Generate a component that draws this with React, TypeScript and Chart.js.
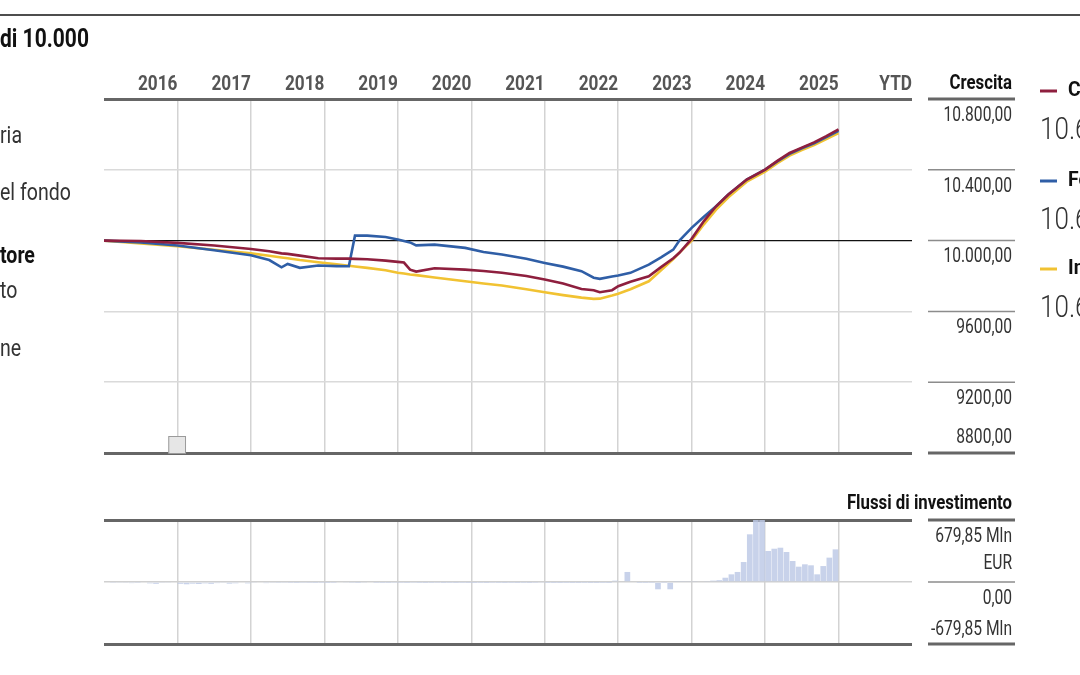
import React, { useEffect, useRef } from "react";
import { Chart, registerables } from "chart.js";

Chart.register(...registerables);

const W = 1080;
const H = 675;
const FONT = "Roboto";

// ---------- data ----------
const yearLabels = ["2016", "2017", "2018", "2019", "2020", "2021", "2022", "2023", "2024", "2025", "YTD"];

// months since Jan 2016
const months = [0, 6, 12, 18, 24, 27, 29, 30, 32, 35, 38, 40, 41, 43, 46, 48, 49, 50, 51, 54, 59, 62, 65, 69, 72, 75, 78, 80, 81, 83, 84, 86, 89, 91, 93, 94, 96, 98, 100, 102, 105, 108, 110, 112, 114, 116, 118, 120];

const categoryValues = [10000, 9998, 9987, 9972, 9953, 9940, 9928, 9925, 9915, 9900, 9898, 9898, 9897, 9895, 9887, 9880, 9876, 9836, 9825, 9844, 9836, 9828, 9818, 9800, 9780, 9758, 9727, 9720, 9708, 9720, 9742, 9768, 9798, 9850, 9900, 9931, 10010, 10110, 10194, 10260, 10345, 10401, 10450, 10495, 10525, 10555, 10590, 10628];

const fundValues = [10000, 9990, 9972, 9945, 9917, 9890, 9849, 9868, 9846, 9859, 9856, 9855, 10028, 10028, 10020, 10006, 9998, 9990, 9973, 9977, 9959, 9936, 9921, 9897, 9874, 9853, 9827, 9790, 9784, 9797, 9803, 9818, 9864, 9905, 9949, 10000, 10072, 10135, 10194, 10260, 10345, 10401, 10448, 10490, 10522, 10550, 10585, 10620];

const indexValues = [10000, 9984, 9968, 9948, 9928, 9914, 9905, 9900, 9890, 9878, 9866, 9858, 9854, 9846, 9832, 9818, 9814, 9808, 9805, 9792, 9770, 9758, 9746, 9725, 9708, 9692, 9678, 9671, 9672, 9690, 9700, 9725, 9770, 9832, 9895, 9932, 10000, 10092, 10175, 10245, 10333, 10390, 10438, 10480, 10512, 10540, 10574, 10608];

const seriesNames = ["Categoria", "Fondo", "Indice"];
const seriesColors = ["#8e1f3e", "#2f5ea6", "#f1c232"];

const growthTicks = [10800, 10400, 10000, 9600, 9200, 8800];
const growthTickLabels = ["10.800,00", "10.400,00", "10.000,00", "9600,00", "9200,00", "8800,00"];

// monthly investment flows (Mln EUR), Jan 2016 .. Dec 2025
const flowValues = [
  -8, -5, -10, -6, -12, -4, -8, -15, -20, -6, -10, -8,
  -20, -25, -18, -22, -15, -20, -12, -10, -18, -14, -8, -15,
  -10, -8, -12, -6, -4, -5, -3, -2, -4, -3, -2, -3,
  -2, -3, -8, -10, -4, -2, -6, -8, -3, -2, -2, -4,
  -3, -2, -4, -2, -1, -2, -3, -1, -2, -1, -2, -1,
  -1, -2, -1, -3, -2, -1, -2, -1, -2, -1, -3, -6,
  -2, -1, -1, -2, -1, -1, -2, -1, -1, -2, -1, 15,
  0, 110, 0, -2, -2, -3, -80, -3, -80, 5, 5, 6,
  6, 8, 10, 15, 20, 47, 84, 110, 219, 523, 690, 690,
  340, 365, 376, 329, 230, 168, 194, 183, 84, 175, 267, 358,
];
const flowMax = 679.85;
const flowTickLabels = ["679,85 Mln", "0,00", "-679,85 Mln"];

const leftFragments = ["ria", "el fondo", "tore", "to", "ne"];
const leftFragmentBold = [false, false, true, false, false];

const markerRange = [10.5, 13.4];

// ---------- helpers ----------
function txt(
  ctx: CanvasRenderingContext2D,
  s: string,
  x: number,
  y: number,
  size: number,
  weight: string,
  color: string,
  align: CanvasTextAlign,
  sx: number
) {
  ctx.save();
  ctx.font = `${weight} ${size}px ${FONT}`;
  ctx.fillStyle = color;
  ctx.textBaseline = "middle";
  ctx.textAlign = align;
  ctx.translate(x, y);
  ctx.scale(sx, 1);
  ctx.fillText(s, 0, 0);
  ctx.restore();
}

function hline(ctx: CanvasRenderingContext2D, x0: number, x1: number, y: number, w: number, color: string) {
  ctx.save();
  ctx.strokeStyle = color;
  ctx.lineWidth = w;
  ctx.beginPath();
  ctx.moveTo(x0, y);
  ctx.lineTo(x1, y);
  ctx.stroke();
  ctx.restore();
}

const COL_X0 = 928;
const COL_X1 = 1015;
const LABEL_R = 1012;

const growthDecor = {
  id: "growthDecor",
  afterDraw(chart: any) {
    const ctx = chart.ctx as CanvasRenderingContext2D;
    const xs = chart.scales.x;
    const ys = chart.scales.y;
    const area = chart.chartArea;

    // top rule & title
    hline(ctx, 0, W, 15, 2, "#4d4d4d");
    txt(ctx, "di 10.000", 0, 41, 25, "bold", "#111", "left", 0.84);

    // year labels
    yearLabels.forEach((lab, i) => {
      const x = xs.getPixelForValue(12 * (i + 1));
      txt(ctx, lab, x, area.top - 14, 20, "bold", "#555", "right", 0.86);
    });

    // right column
    txt(ctx, "Crescita", LABEL_R, area.top - 15, 20, "bold", "#111", "right", 0.84);
    growthTicks.forEach((v, i) => {
      const y = ys.getPixelForValue(v);
      const edge = i === 0 || i === growthTicks.length - 1;
      hline(ctx, COL_X0, COL_X1, y, edge ? 3 : 1.5, edge ? "#666" : "#8c8c8c");
      const ly = i === growthTicks.length - 1 ? y - 15 : y + 17;
      txt(ctx, growthTickLabels[i], LABEL_R, ly, 19.5, "normal", "#333", "right", 0.8);
    });

    // marker box
    const mx0 = xs.getPixelForValue(markerRange[0]);
    const mx1 = xs.getPixelForValue(markerRange[1]);
    ctx.save();
    ctx.fillStyle = "#e6e6e6";
    ctx.strokeStyle = "#9a9a9a";
    ctx.lineWidth = 1;
    ctx.fillRect(mx0, area.bottom - 17, mx1 - mx0, 17);
    ctx.strokeRect(mx0 + 0.5, area.bottom - 17 + 0.5, mx1 - mx0 - 1, 17);
    ctx.restore();

    // left fragments
    const ly = [137, 194, 257, 292, 350];
    leftFragments.forEach((s, i) => {
      txt(ctx, s, 0, ly[i], 23, leftFragmentBold[i] ? "bold" : "normal", leftFragmentBold[i] ? "#111" : "#333", "left", 0.85);
    });

    // right legend
    const lastVals = [categoryValues, fundValues, indexValues].map((a) => a[a.length - 1]);
    const legY = [91, 181, 269];
    seriesNames.forEach((n, i) => {
      hline(ctx, 1040, 1057, legY[i], 3, seriesColors[i]);
      txt(ctx, n, 1068, legY[i], 21, "bold", "#111", "left", 0.92);
      const v = lastVals[i].toFixed(2).replace(".", ",");
      const s = v.slice(0, 2) + "." + v.slice(2);
      txt(ctx, s, 1040, legY[i] + 40, 31, "300", "#333", "left", 0.84);
    });
  },
};

const flowDecor = {
  id: "flowDecor",
  afterDraw(chart: any) {
    const ctx = chart.ctx as CanvasRenderingContext2D;
    const ys = chart.scales.y;
    const area = chart.chartArea;
    txt(ctx, "Flussi di investimento", LABEL_R, area.top - 16, 20, "bold", "#111", "right", 0.84);
    const vals = [flowMax, 0, -flowMax];
    vals.forEach((v, i) => {
      const y = ys.getPixelForValue(v);
      const edge = i !== 1;
      hline(ctx, COL_X0, COL_X1, y, edge ? 3 : 1.5, edge ? "#666" : "#8c8c8c");
      const ly = i === 2 ? y - 14 : y + 17;
      txt(ctx, flowTickLabels[i], LABEL_R, ly, 19.5, "normal", "#333", "right", 0.8);
    });
    const yTop = ys.getPixelForValue(flowMax);
    txt(ctx, "EUR", LABEL_R, yTop + 44, 19.5, "normal", "#333", "right", 0.8);
  },
};

const vGrid = (c: any) => {
  const v = c.tick && c.tick.value;
  return v === 0 || v === 132 ? "rgba(0,0,0,0)" : "#d3d3d3";
};

export default function App() {
  const lineRef = useRef<HTMLCanvasElement>(null);
  const barRef = useRef<HTMLCanvasElement>(null);

  useEffect(() => {
    const datasets = [categoryValues, fundValues, indexValues].map((vals, k) => ({
      label: seriesNames[k],
      data: months.map((m, i) => ({ x: m, y: vals[i] })),
      borderColor: seriesColors[k],
      backgroundColor: seriesColors[k],
      borderWidth: 2.6,
      pointRadius: 0,
      tension: 0,
      fill: false,
    }));

    const lineChart = new Chart(lineRef.current as HTMLCanvasElement, {
      type: "line",
      data: { datasets },
      options: {
        animation: false,
        responsive: false,
        maintainAspectRatio: false,
        layout: { padding: { left: 104, right: W - 912, top: 99, bottom: H - 453 } },
        plugins: { legend: { display: false }, tooltip: { enabled: false } },
        scales: {
          x: {
            type: "linear",
            min: 0,
            max: 132,
            ticks: { display: false, stepSize: 12 },
            grid: { drawTicks: false, offset: false, color: vGrid, lineWidth: 1.5 },
            border: { display: false },
          },
          y: {
            min: 8800,
            max: 10800,
            ticks: { display: false, stepSize: 400 },
            grid: {
              drawTicks: false,
              color: (c: any) => {
                const v = c.tick.value;
                if (v === 10800 || v === 8800) return "#666";
                if (v === 10000) return "#111";
                return "#dadada";
              },
              lineWidth: (c: any) => {
                const v = c.tick.value;
                if (v === 10800 || v === 8800) return 3;
                if (v === 10000) return 1.2;
                return 1.5;
              },
            },
            border: { display: false },
          },
        },
      } as any,
      plugins: [growthDecor],
    });

    const barChart = new Chart(barRef.current as HTMLCanvasElement, {
      type: "bar",
      data: {
        datasets: [
          {
            label: "Flussi",
            data: flowValues.map((v, i) => ({ x: i + 0.5, y: v })),
            backgroundColor: "rgba(190, 202, 230, 0.85)",
            borderWidth: 0,
            barPercentage: 0.93,
            categoryPercentage: 1,
          },
        ],
      },
      options: {
        animation: false,
        responsive: false,
        maintainAspectRatio: false,
        layout: { padding: { left: 104, right: W - 912, top: 520, bottom: H - 644 } },
        plugins: { legend: { display: false }, tooltip: { enabled: false } },
        scales: {
          x: {
            type: "linear",
            min: 0,
            max: 132,
            offset: false,
            ticks: { display: false, stepSize: 12 },
            grid: { drawTicks: false, offset: false, color: vGrid, lineWidth: 1.5 },
            border: { display: false },
          },
          y: {
            min: -flowMax,
            max: flowMax,
            ticks: { display: false, stepSize: flowMax },
            grid: {
              drawTicks: false,
              color: (c: any) => (Math.abs(c.tick.value) < 1 ? "#d0d0d0" : "#666"),
              lineWidth: (c: any) => (Math.abs(c.tick.value) < 1 ? 1.5 : 3),
            },
            border: { display: false },
          },
        },
      } as any,
      plugins: [flowDecor],
    });

    return () => {
      lineChart.destroy();
      barChart.destroy();
    };
  }, []);

  const cs: React.CSSProperties = { position: "absolute", left: 0, top: 0, width: W, height: H };
  return (
    <div style={{ position: "fixed", left: 0, top: 0, width: W, height: H, background: "#fff", overflow: "hidden" }}>
      <canvas ref={lineRef} width={W} height={H} style={cs} />
      <canvas ref={barRef} width={W} height={H} style={cs} />
    </div>
  );
}
